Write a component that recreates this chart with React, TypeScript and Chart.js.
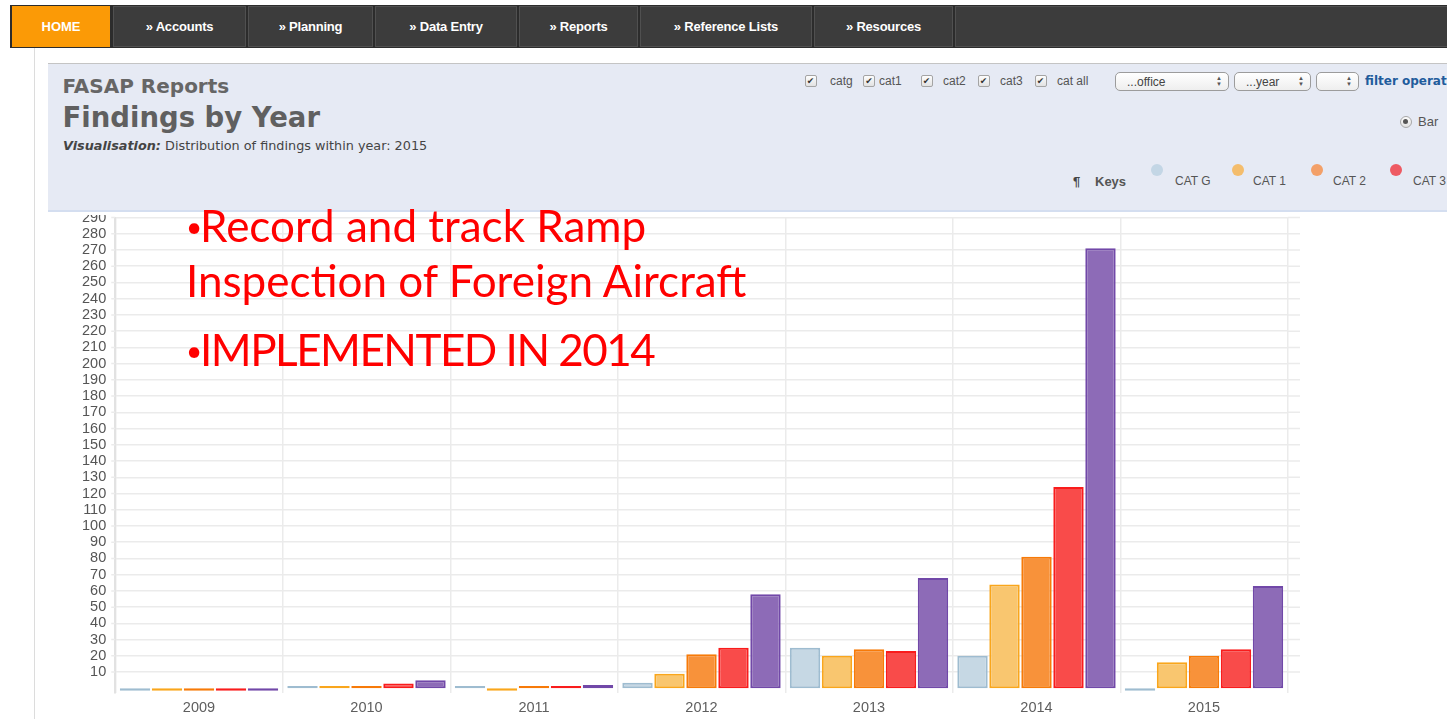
import React, { useEffect, useRef } from "react";
import { Chart, registerables } from "chart.js";

Chart.register(...registerables);

// ---- data ----
const years = ["2009", "2010", "2011", "2012", "2013", "2014", "2015"];
const catG = [-1.5, 1.5, 1.5, 3.5, 25, 20, -1.5];
const cat1 = [-1.5, 1.5, -1.5, 9, 20, 64, 16];
const cat2 = [-1.5, 1.5, 1.5, 21, 24, 81, 20];
const cat3 = [-1.5, 3, 1.5, 25, 23, 124, 24];
const catAll = [-1.5, 5, 2, 58, 68, 271, 63];
const seriesNames = ["CAT G", "CAT 1", "CAT 2", "CAT 3", "CAT ALL"];
const yMin = -3;
const yMax = 290;
const yStep = 10;

const navItems = ["» Accounts", "» Planning", "» Data Entry", "» Reports", "» Reference Lists", "» Resources"];
const checkLabels = ["catg", "cat1", "cat2", "cat3", "cat all"];
const keyLabels = ["CAT G", "CAT 1", "CAT 2", "CAT 3"];

// ---- styles ----
const fills = ["#c6d8e4", "#f9c66f", "#f8923a", "#f94b4a", "#8d6bb7"];
const borders = ["#9ebcd0", "#f9a61c", "#f77a08", "#f91c1c", "#7148a8"];
const keyColors = ["#c3d6e5", "#f4bd6c", "#f3a068", "#ee5a62"];
const GRID = "#ebebeb";
const SANS = "'Liberation Sans', Arial, sans-serif";
const DEJA = "'DejaVu Sans', Verdana, sans-serif";

const extendGrid = {
  id: "extendGrid",
  beforeDatasetsDraw(chart: any) {
    const { ctx, chartArea } = chart;
    const y = chart.scales.y;
    ctx.save();
    ctx.strokeStyle = GRID;
    ctx.lineWidth = 1.5;
    y.ticks.forEach((t: any) => {
      if (t.value < 0) return;
      const py = y.getPixelForValue(t.value);
      ctx.beginPath();
      ctx.moveTo(chartArea.right, py);
      ctx.lineTo(chart.width, py);
      ctx.moveTo(chartArea.left - 4, py);
      ctx.lineTo(chartArea.left, py);
      ctx.stroke();
    });
    ctx.restore();
  },
};

function BarChart() {
  const ref = useRef<HTMLCanvasElement | null>(null);
  useEffect(() => {
    if (!ref.current) return;
    const series = [catG, cat1, cat2, cat3, catAll];
    const chart = new Chart(ref.current, {
      type: "bar",
      data: {
        labels: years,
        datasets: series.map((d, i) => ({
          label: seriesNames[i],
          data: d,
          backgroundColor: fills[i],
          borderColor: borders[i],
          borderWidth: 2,
          borderSkipped: false,
          categoryPercentage: 0.955,
          barPercentage: 0.95,
        })),
      },
      options: {
        animation: false,
        responsive: false,
        maintainAspectRatio: false,
        devicePixelRatio: 1,
        layout: { padding: { top: 10.5, right: 12.25, left: 0, bottom: 0 } },
        plugins: { legend: { display: false }, tooltip: { enabled: false } },
        scales: {
          x: {
            grid: { color: GRID, lineWidth: 1.5, drawTicks: false, offset: true },
            border: { display: false },
            ticks: {
              color: "#5e5e5e",
              font: { family: SANS, size: 14.5, lineHeight: 1 },
              padding: 8,
            },
            afterFit: (s: any) => {
              s.height = 26.8;
            },
          },
          y: {
            min: yMin,
            max: yMax,
            ticks: {
              stepSize: yStep,
              autoSkip: false,
              color: "#555",
              font: { family: SANS, size: 14.5, lineHeight: 1 },
              padding: 0,
              callback: (v: any) => (Number(v) > 0 ? String(v) : ""),
            },
            grid: {
              color: (c: any) => (c.tick && c.tick.value < 0 ? "rgba(0,0,0,0)" : GRID),
              lineWidth: 1.5,
              drawTicks: true,
              tickLength: 9,
              tickColor: "rgba(0,0,0,0)",
            },
            border: { color: "#e2e2e2", width: 2 },
            afterFit: (s: any) => {
              s.width = 115.25;
            },
          },
        },
      },
      plugins: [extendGrid],
    } as any);
    return () => chart.destroy();
  }, []);
  return <canvas ref={ref} width={1300} height={513} style={{ position: "absolute", left: 0, top: -8 }} />;
}

const abs = (s: React.CSSProperties): React.CSSProperties => ({ position: "absolute", ...s });

function CheckBox({ x }: { x: number }) {
  return (
    <span
      style={abs({
        left: x - 5.5,
        top: 75,
        width: 10,
        height: 10,
        border: "1px solid #a4a4a4",
        borderRadius: 2,
        background: "linear-gradient(#fdfdfd,#e2e2e2)",
        fontSize: 9,
        lineHeight: "10px",
        textAlign: "center",
        color: "#333",
        fontFamily: DEJA,
      })}
    >
      ✔
    </span>
  );
}

function Select({ x1, x2, text }: { x1: number; x2: number; text: string }) {
  return (
    <div
      style={abs({
        left: x1,
        top: 72,
        width: x2 - x1 - 2,
        height: 17,
        border: "1px solid #9c9c9c",
        borderRadius: 5,
        background: "linear-gradient(#ffffff,#eeeeee)",
      })}
    >
      <span style={abs({ left: 11, top: 3, fontSize: 12, lineHeight: "12px", color: "#444", fontFamily: SANS })}>{text}</span>
      <span style={abs({ right: 6, top: 2, fontSize: 6, lineHeight: "6px", color: "#555", textAlign: "center" })}>
        ▲<br />▼
      </span>
    </div>
  );
}

const redLine = (top: number): React.CSSProperties =>
  abs({
    left: 186,
    top,
    fontFamily: "Lato, sans-serif",
    fontSize: 44,
    lineHeight: "45px",
    color: "#ff0000",
    whiteSpace: "nowrap",
  });

const bullet: React.CSSProperties = {
  display: "inline-block",
  width: 14,
  fontSize: 28,
  position: "relative",
  top: -5,
};

export default function App() {
  const navX = [113, 248, 375, 519, 640, 814, 955];
  const cbX = [810, 868.5, 926, 983, 1040];
  const cbLabelX = [830, 879, 943, 1000, 1057];
  const keyX = [1156.6, 1237.5, 1317, 1396];
  const keyLabelX = [1175, 1253, 1333, 1413];
  return (
    <div
      style={{
        position: "fixed",
        left: 0,
        top: 0,
        width: 1447,
        height: 719,
        overflow: "hidden",
        background: "#ffffff",
        fontFamily: SANS,
      }}
    >
      {/* left rule */}
      <div style={abs({ left: 34, top: 48, width: 1, height: 671, background: "#dcdcdc" })} />

      {/* nav bar */}
      <div style={abs({ left: 10, top: 5, width: 1437, height: 43, background: "#2c2c2c" })} />
      <div
        style={abs({
          left: 12,
          top: 6,
          width: 98,
          height: 41,
          background: "#fb9a06",
          color: "#fff",
          fontWeight: "bold",
          fontSize: 13,
          lineHeight: "41px",
          textAlign: "center",
        })}
      >
        HOME
      </div>
      {navItems.map((t, i) => (
        <div
          key={t}
          style={abs({
            left: navX[i],
            top: 6,
            width: navX[i + 1] - navX[i] - 4,
            height: 39,
            border: "1px solid #505050",
            background: "#3c3c3c",
            color: "#fff",
            fontWeight: "bold",
            fontSize: 13,
            lineHeight: "40px",
            textAlign: "center",
            letterSpacing: -0.2,
          })}
        >
          {t}
        </div>
      ))}
      <div
        style={abs({ left: 955, top: 6, width: 492, height: 39, border: "1px solid #505050", background: "#3c3c3c" })}
      />

      {/* chart */}
      <div style={abs({ left: 0, top: 214.5, width: 1300, height: 505, overflow: "hidden" })}>
        <BarChart />
      </div>

      {/* header panel */}
      <div
        style={abs({
          left: 48,
          top: 63,
          width: 1399,
          height: 146,
          background: "#e6eaf4",
          borderTop: "1px solid #c4c4c4",
          borderBottom: "2px solid #d4def0",
        })}
      />
      <div style={abs({ left: 62.5, top: 75.5, fontFamily: DEJA, fontWeight: "bold", fontSize: 20, lineHeight: "20px", color: "#666" })}>
        FASAP Reports
      </div>
      <div style={abs({ left: 62.5, top: 103.5, fontFamily: DEJA, fontWeight: "bold", fontSize: 27.5, lineHeight: "27.5px", color: "#606060" })}>
        Findings by Year
      </div>
      <div style={abs({ left: 63, top: 139.5, fontFamily: DEJA, fontSize: 12.8, lineHeight: "12.8px", color: "#444", whiteSpace: "nowrap" })}>
        <b>
          <i>Visualisation:</i>
        </b>{" "}
        Distribution of findings within year: 2015
      </div>

      {cbX.map((x) => (
        <CheckBox key={x} x={x} />
      ))}
      {checkLabels.map((t, i) => (
        <div key={t} style={abs({ left: cbLabelX[i], top: 75, fontSize: 12, lineHeight: "12px", color: "#555" })}>
          {t}
        </div>
      ))}
      <Select x1={1115} x2={1229} text="...office" />
      <Select x1={1234} x2={1311} text="...year" />
      <Select x1={1316} x2={1359} text="" />
      <div
        style={abs({
          left: 1365,
          top: 75,
          fontFamily: DEJA,
          fontWeight: "bold",
          fontSize: 12,
          lineHeight: "12px",
          color: "#1f5c9c",
          whiteSpace: "nowrap",
        })}
      >
        filter operations
      </div>

      {/* radio */}
      <div
        style={abs({
          left: 1399.5,
          top: 115.5,
          width: 10,
          height: 10,
          borderRadius: "50%",
          border: "1px solid #a8a8a8",
          background: "linear-gradient(#fdfdfd,#e0e0e0)",
        })}
      />
      <div style={abs({ left: 1403, top: 119.2, width: 5, height: 5, borderRadius: "50%", background: "#555" })} />
      <div style={abs({ left: 1418, top: 114.5, fontSize: 13, lineHeight: "13px", color: "#555" })}>Bar</div>

      {/* keys */}
      <div style={abs({ left: 1073, top: 174.5, fontSize: 13, lineHeight: "13px", color: "#444", fontWeight: "bold" })}>¶</div>
      <div style={abs({ left: 1095, top: 174.5, fontSize: 13, lineHeight: "13px", color: "#555", fontWeight: "bold" })}>
        Keys
      </div>
      {keyX.map((x, i) => (
        <div
          key={x}
          style={abs({ left: x - 6, top: 164, width: 12, height: 12, borderRadius: "50%", background: keyColors[i] })}
        />
      ))}
      {keyLabels.map((t, i) => (
        <div key={t} style={abs({ left: keyLabelX[i], top: 175, fontSize: 12, lineHeight: "12px", color: "#555", whiteSpace: "nowrap" })}>
          {t}
        </div>
      ))}

      {/* red overlay text */}
      <div style={redLine(202.5)}>
        <span style={bullet}>•</span>Record and track Ramp
      </div>
      <div style={redLine(257.5)}>Inspection of Foreign Aircraft</div>
      <div style={{ ...redLine(326.5), letterSpacing: -1.5 }}>
        <span style={{ ...bullet, letterSpacing: 0 }}>•</span>IMPLEMENTED IN 2014
      </div>
    </div>
  );
}
